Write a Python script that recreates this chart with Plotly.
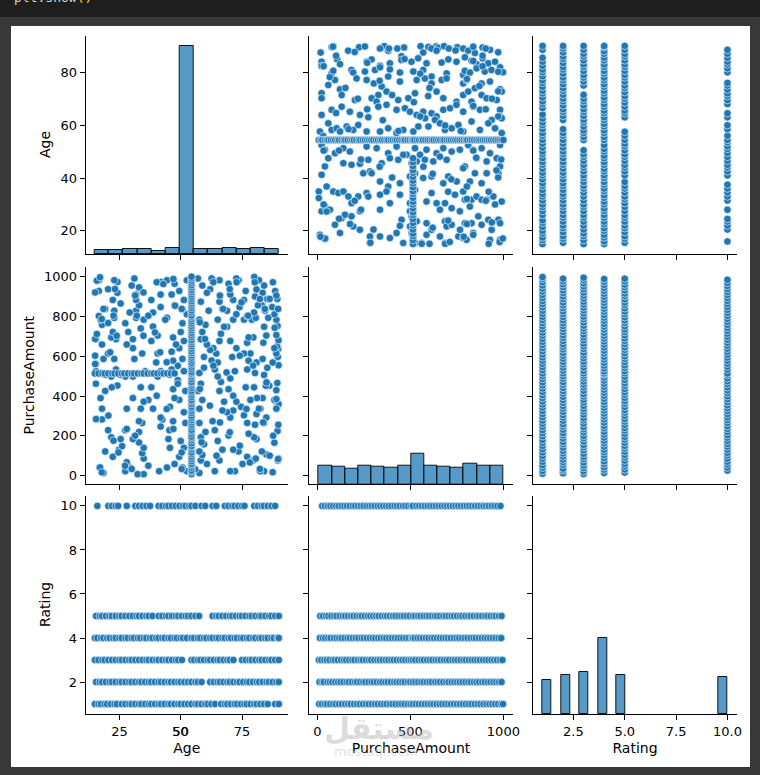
import plotly.graph_objects as go

W, H = 760, 775

# ---------------- data ----------------
variables = ["Age", "PurchaseAmount", "Rating"]

age_mean = 54.4          # imputed Age value (horizontal / vertical band)
amount_mean = 514        # imputed PurchaseAmount value

# records with both Age and PurchaseAmount observed: (PurchaseAmount, Age)
amount_age_pairs = [
    (77, 89.6), (86, 89.9), (225, 89.5), (256, 89.8), (345, 89.3), (360, 89.9), (466, 89.4), (555, 89.9),
    (597, 89.6), (638, 89.8), (650, 89.3), (681, 89.9), (752, 89.5), (838, 89.8), (888, 89.4),
    (18, 87.5), (166, 88.2), (337, 89), (381, 88.2), (430, 89), (452, 86.1), (569, 87.5), (614, 89),
    (641, 88.2), (707, 89), (743, 88.3), (784, 89), (811, 88.2), (847, 87.3), (928, 88.5), (972, 87.6),
    (23, 84), (23, 82.4), (107, 84.9), (122, 83.1), (265, 84), (292, 84.9), (337, 82.5), (390, 83.4),
    (452, 84.7), (506, 84), (542, 85.3), (587, 83.4), (668, 83.7), (704, 84.9), (748, 84), (793, 85.7),
    (829, 84.4), (856, 83.1), (888, 85.3), (919, 83.4), (955, 84), (982, 81.9),
    (77, 79.6), (86, 80.6), (184, 80.9), (193, 79.9), (256, 80.3), (310, 80.9), (337, 81.9), (390, 81.1),
    (444, 79.9), (516, 80.3), (569, 80.9), (614, 78.4), (695, 79.6), (784, 79), (793, 80.6), (820, 79.9),
    (856, 81.5), (900, 80.3), (936, 80.9), (998, 80),
    (59, 75.2), (95, 77.1), (122, 73.6), (211, 77.7), (265, 77.1), (304, 75.8), (346, 74.6), (381, 78.4),
    (444, 76.5), (534, 77.1), (578, 77.7), (614, 75.8), (668, 77.1), (695, 77.7), (784, 75.8), (802, 77.1),
    (847, 74), (883, 75.8), (928, 76.5), (982, 73.6),
    (23, 72.1), (23, 70.2), (131, 71.4), (202, 69.5), (292, 70.2), (328, 71.4), (372, 72.7), (435, 69.5),
    (489, 70.2), (525, 72.1), (596, 71), (641, 72.7), (677, 70.2), (748, 68.9), (784, 71.4), (811, 72.7),
    (829, 68.9), (883, 71.4), (910, 70.2), (964, 69.5), (991, 72.7),
    (23, 63.9), (77, 65.8), (131, 67), (175, 65.1), (229, 63.9), (274, 63), (319, 68.9), (328, 67),
    (372, 67.7), (426, 65.8), (471, 66.4), (498, 65.1), (534, 63.9), (569, 65.1), (614, 64.5), (641, 63.3),
    (677, 65.8), (713, 66.4), (748, 67.7), (784, 65.1), (838, 67), (874, 65.8), (937, 62), (982, 65.8),
    (982, 63.3),
    (14, 57.6), (32, 55.9), (59, 60.7), (77, 58.2), (104, 58.8), (122, 57.6), (158, 59.5), (193, 58.2),
    (220, 60.1), (265, 57.6), (337, 57.6), (381, 58.8), (426, 57), (462, 58.2), (516, 57.6), (543, 59.5),
    (579, 62.6), (597, 59.5), (632, 62), (659, 60.7), (686, 58.2), (722, 58.8), (758, 60.1), (784, 57.6),
    (829, 61.4), (874, 58.2), (919, 60.7), (955, 58.8), (991, 62.6), (991, 57),
    (23, 52.5), (41, 50.7), (95, 49.4), (140, 51.3), (175, 50), (265, 51.9), (319, 51.3), (381, 49.4),
    (426, 51.9), (480, 48.8), (525, 51.3), (552, 48.8), (587, 50.7), (641, 49.4), (677, 51.3), (722, 50),
    (766, 50.7), (811, 52.5), (838, 50.7), (883, 51.3), (928, 49.4), (982, 52.5),
    (41, 44.4), (59, 47.5), (140, 45.6), (184, 45), (229, 45.4), (274, 46.9), (283, 42.5), (346, 45.6),
    (390, 47.5), (435, 46.9), (462, 48.8), (507, 45.6), (534, 46.3), (578, 46.9), (623, 46.3), (659, 48.1),
    (695, 46.9), (793, 44.4), (856, 47.5), (910, 46.3), (964, 47.5), (982, 44.4),
    (23, 41.2), (247, 41.8), (292, 41.8), (337, 38.7), (381, 36.8), (444, 38), (498, 40.6), (525, 41.8),
    (569, 40), (614, 40.6), (677, 38), (704, 40.6), (749, 38.7), (784, 43.7), (847, 41.8), (910, 41.8),
    (973, 41.8), (883, 38), (820, 38.7),
    (8, 34.9), (8, 32.4), (50, 36.8), (86, 34.9), (113, 34.3), (140, 34.9), (167, 33), (184, 30.5),
    (220, 33), (265, 34.3), (274, 33), (337, 33.7), (372, 34.9), (444, 33.7), (498, 30.5), (525, 35.5),
    (587, 31.1), (614, 34.3), (641, 30.5), (686, 30.5), (740, 33.7), (784, 34.9), (793, 31.8), (829, 31.8),
    (856, 33), (883, 31.8), (910, 31.8), (946, 33), (991, 31.1),
    (23, 27.4), (41, 29.2), (68, 28), (131, 24.8), (149, 26.1), (184, 25.5), (229, 27.4), (337, 28),
    (390, 30.5), (453, 24.2), (498, 27.4), (507, 25.5), (534, 23.6), (587, 22.9), (659, 28), (686, 23.6),
    (722, 28.6), (766, 27.4), (793, 22.9), (829, 22.9), (865, 25.5), (919, 24.2), (973, 24.2), (982, 22.9),
    (820, 29.2),
    (14, 18.5), (41, 16.9), (95, 22.3), (122, 19.2), (193, 21.7), (229, 20.4), (283, 17.9), (283, 15.4),
    (337, 17.9), (390, 17.3), (426, 19.2), (462, 15.4), (498, 21.7), (507, 19.2), (516, 17.3), (525, 15.4),
    (561, 15.4), (587, 18.5), (614, 20.4), (659, 17.9), (686, 15.4), (695, 21.7), (722, 22.3), (758, 17.9),
    (784, 17.3), (802, 16.6), (838, 19.2), (883, 22.3), (928, 16.6), (937, 20.4), (982, 16.6), (767, 20.4),
    # further points read from the Age / PurchaseAmount panel
    (980, 15.8), (997, 17.1), (921, 15.1), (687, 15.1), (712, 15.8), (603, 15.1), (561, 15.1), (285, 15.5),
    (42, 17.1), (17, 17.8), (838, 18.5), (787, 17.8), (938, 23.2), (804, 22.6), (703, 23.9), (620, 21.2),
    (444, 21.9), (302, 20.5), (176, 22.6), (117, 24.6), (235, 28), (50, 27.3), (34, 30), (201, 31.4),
    (955, 30), (905, 31.4), (804, 32.1), (921, 34.8), (804, 36.8), (703, 34.8), (720, 39.5), (972, 40.2),
    (963, 42.9), (988, 47), (854, 47.7), (838, 50.4), (620, 41.6), (570, 44.3), (402, 40.2), (335, 44.3),
    (235, 47), (117, 50.4), (34, 50.4), (771, 57.8), (687, 59.9), (972, 63.3), (905, 66), (838, 67.3),
    (938, 70), (972, 72.8), (871, 74.8), (804, 77.5), (972, 80.2), (888, 82.3), (838, 84.3), (888, 86.3),
    (905, 89), (838, 89.7), (436, 57.8), (352, 61.9), (268, 66), (218, 70), (151, 74.1), (67, 78.2),
    (34, 82.3), (101, 86.3), (84, 89.7), (553, 63.3), (519, 68.7), (603, 74.1), (553, 79.5), (469, 85),
    (385, 89), (168, 58.5), (101, 64.6), (402, 71.4), (335, 76.8), (268, 83.6), (201, 87.7),
]

# PurchaseAmount of records whose Age was imputed (Age = age_mean)
imputed_age_amounts = [
    8, 19, 27, 41, 52, 60, 73, 85, 96, 108, 117, 131, 142, 150, 163, 177, 188, 196, 210, 222, 231, 245,
    256, 268, 279, 290, 301, 315, 326, 338, 347, 360, 372, 381, 395, 406, 418, 427, 440, 452, 463, 471,
    485, 497, 508, 514, 522, 536, 547, 559, 568, 581, 593, 604, 616, 625, 638, 650, 661, 673, 682, 696,
    707, 718, 730, 741, 752, 764, 775, 787, 798, 806, 820, 831, 843, 855, 866, 877, 889, 900, 912, 923,
    934, 946, 957, 969, 980, 991, 1000,
]

# Age of records whose PurchaseAmount was imputed (PurchaseAmount = amount_mean)
imputed_amount_ages = [
    15, 16.5, 18, 19, 20.5, 22, 23, 24.5, 26, 27, 28.5, 30, 31, 32.5, 34, 35, 36.5, 38, 39, 40.5, 42,
    43, 44.5, 46, 47.5,
]

# Ages observed at each rating value
rating_levels = [1, 2, 3, 4, 5, 10]
ages_by_rating = {
    1: [15, 16.5, 17.5, 19, 20, 21.5, 23, 24, 26, 27.5, 29, 30, 31.5, 33, 34, 35.5, 37, 38, 39.5, 41, 42,
        43.5, 45, 46, 47.5, 49, 50, 51.5, 53, 54.4, 56, 57, 58.5, 60, 61, 62.5, 64, 66.5, 68, 69, 70.5,
        72, 73, 74.5, 76, 77, 78.5, 80, 81, 82.5, 84, 85.5, 88.5, 90],
    2: [15.5, 17, 18, 19.5, 21, 22, 23.5, 25, 26, 27.5, 29, 30, 31.5, 33, 34, 35.5, 37, 38, 39.5, 41, 42,
        43.5, 45, 46, 47.5, 49, 50, 51.5, 53, 54.4, 56, 57, 58.5, 62, 63.5, 65, 66, 67.5, 69, 70, 71.5,
        73, 74, 75.5, 77, 78, 79.5, 81, 82, 83.5, 85, 86, 87.5, 89, 90],
    3: [15, 16.5, 18, 19, 20.5, 22, 23.5, 25, 26, 27.5, 29, 30, 31.5, 33, 34.5, 36, 37, 38.5, 40, 41,
        42.5, 44, 45, 46.5, 48, 49, 50.5, 54.4, 55.5, 57, 58, 59.5, 61, 62, 63.5, 65, 66, 67.5, 69, 70,
        71.5, 75, 76.5, 78, 79, 80.5, 82, 83, 84.5, 86, 87, 88.5, 90],
    4: [15, 16, 17.5, 18.5, 20, 21, 22.5, 23.5, 25, 26, 27.5, 28.5, 30, 31, 32.5, 33.5, 35, 36, 37.5,
        38.5, 40, 41, 42.5, 43.5, 45, 46, 47.5, 48.5, 50, 51, 52.5, 54.4, 55.5, 57, 58, 59.5, 60.5, 62,
        63, 64.5, 65.5, 67, 68, 69.5, 70.5, 72, 73, 74.5, 75.5, 77, 78, 79.5, 80.5, 82, 83, 84.5, 85.5,
        87, 88, 89.5, 90],
    5: [15.5, 17, 18, 19.5, 21, 22, 23.5, 25, 26, 27.5, 29, 30.5, 32, 33, 34.5, 36, 37, 38.5, 41, 42.5,
        44, 45, 46.5, 48, 49, 50.5, 52, 53, 54.4, 56, 57.5, 63, 64.5, 65.5, 67, 68.5, 70, 71, 72.5, 74,
        75, 76.5, 78, 79, 80.5, 82, 83, 84.5, 86, 87, 88.5, 90],
    10: [16, 20.5, 22, 23.5, 24.5, 28, 31.5, 33, 34.5, 36, 37.5, 41, 42.5, 44, 45, 46.5, 48, 49.5, 51,
         52, 53.5, 54.4, 56, 58.5, 60, 63, 64.5, 68, 69.5, 71, 72, 73.5, 75, 76, 80, 81.5, 83, 84, 85.5,
         87, 88.5],
}

# Purchase amounts observed at each rating value
amounts_by_rating = {
    1: [10, 24, 40, 53, 70, 86, 100, 117, 133, 150, 166, 180, 198, 214, 229, 246, 262, 277, 294, 310,
        325, 342, 358, 373, 390, 405, 421, 438, 454, 469, 486, 501, 514, 530, 546, 562, 578, 594, 609,
        625, 641, 657, 672, 688, 704, 719, 735, 751, 767, 782, 798, 814, 829, 846, 862, 877, 893, 909,
        925, 940, 956, 972, 988, 998],
    2: [12, 27, 36, 55, 68, 81, 97, 112, 125, 141, 158, 170, 187, 203, 214, 231, 247, 259, 276, 292, 305,
        321, 337, 350, 366, 380, 396, 413, 426, 441, 457, 470, 487, 500, 514, 528, 543, 559, 572, 588,
        603, 617, 634, 648, 661, 677, 693, 706, 722, 737, 752, 766, 781, 797, 812, 826, 842, 856, 870,
        887, 901, 917, 931, 947, 962, 977, 990],
    3: [9, 22, 38, 51, 66, 83, 95, 110, 128, 143, 155, 172, 188, 200, 218, 233, 245, 262, 278, 290, 307,
        323, 336, 351, 368, 382, 398, 411, 427, 444, 458, 473, 489, 502, 514, 527, 544, 560, 573, 590,
        605, 619, 636, 650, 664, 680, 695, 709, 726, 740, 754, 770, 786, 799, 815, 830, 845, 860, 874,
        890, 905, 920, 936, 951, 966, 982, 995],
    4: [14, 30, 43, 59, 72, 89, 104, 118, 131, 147, 163, 176, 192, 207, 221, 238, 251, 267, 283, 298,
        312, 328, 342, 357, 371, 387, 402, 417, 432, 447, 462, 478, 493, 508, 514, 524, 539, 553, 568,
        584, 598, 614, 628, 644, 659, 674, 689, 703, 718, 734, 749, 763, 779, 794, 808, 824, 839, 853,
        869, 884, 899, 914, 929, 944, 959, 974, 988],
    5: [16, 31, 47, 60, 76, 92, 105, 121, 137, 150, 166, 182, 195, 211, 227, 240, 256, 272, 285, 301,
        317, 330, 346, 362, 375, 391, 407, 420, 436, 452, 465, 481, 497, 514, 526, 542, 555, 571, 587,
        600, 616, 632, 645, 661, 677, 690, 706, 722, 735, 751, 767, 780, 796, 812, 825, 841, 857, 870,
        886, 902, 915, 931, 947, 960, 976, 990],
    10: [26, 41, 57, 70, 86, 102, 115, 131, 146, 160, 175, 191, 204, 220, 235, 249, 265, 280, 294, 309,
         325, 339, 354, 370, 384, 399, 415, 429, 444, 460, 474, 489, 505, 514, 533, 548, 563, 578, 593,
         608, 623, 638, 653, 668, 683, 698, 713, 728, 743, 758, 773, 788, 803, 818, 833, 848, 863, 878,
         893, 908, 923, 938, 953, 968, 984],
}

# Histograms on the diagonal (bin edges and counts)
age_bin_edges = [15, 20.77, 26.54, 32.31, 38.08, 43.85, 49.62, 55.38, 61.15, 66.92, 72.69, 78.46, 84.23, 90]
age_counts = [14, 14, 18, 18, 10, 21, 782, 18, 18, 21, 18, 21, 18]

amount_bin_edges = [7, 78, 149, 220, 291, 362, 433, 504, 574, 645, 716, 787, 858, 929, 1000]
amount_counts = [70, 67, 59, 70, 67, 63, 70, 115, 70, 67, 63, 78, 70, 70]

rating_bin_left = [1.0, 1.9, 2.8, 3.7, 4.6, 9.55]
rating_bin_width = 0.45
rating_counts = [127, 147, 157, 286, 147, 138]

# axis tick values
x_ticks = {"Age": [25, 50, 75], "PurchaseAmount": [0, 500, 1000], "Rating": [2.5, 5.0, 7.5, 10.0]}
y_ticks = {"Age": [20, 40, 60, 80], "PurchaseAmount": [0, 200, 400, 600, 800, 1000], "Rating": [2, 4, 6, 8, 10]}

# ---------------- build figure ----------------
axis_range = {"Age": [11.25, 93.75], "PurchaseAmount": [-43, 1050], "Rating": [0.55, 10.45]}
col_px = [(85.7, 288.0), (309.3, 512.7), (533.3, 736.7)]
row_px = [(36.0, 254.0), (266.7, 484.3), (496.0, 714.0)]

def fx(px):
    return px / W

def fy(py):
    return 1 - py / H

BLUE = "#1f77b4"
FONT = "DejaVu Sans"
TICK_FONT = dict(family=FONT, size=13, color="#000000")
title_font = dict(family=FONT, size=14, color="#000000")

fig = go.Figure()

am_x = [p[0] for p in amount_age_pairs] + imputed_age_amounts + [amount_mean] * len(imputed_amount_ages)
am_y = [p[1] for p in amount_age_pairs] + [age_mean] * len(imputed_age_amounts) + imputed_amount_ages

ra_x, ra_y = [], []
for r in rating_levels:
    ra_x += [r] * len(ages_by_rating[r])
    ra_y += ages_by_rating[r]

rm_x, rm_y = [], []
for r in rating_levels:
    rm_x += [r] * len(amounts_by_rating[r])
    rm_y += amounts_by_rating[r]

pair_data = {
    ("PurchaseAmount", "Age"): (am_x, am_y),
    ("Age", "PurchaseAmount"): (am_y, am_x),
    ("Rating", "Age"): (ra_x, ra_y),
    ("Age", "Rating"): (ra_y, ra_x),
    ("Rating", "PurchaseAmount"): (rm_x, rm_y),
    ("PurchaseAmount", "Rating"): (rm_y, rm_x),
}

marker = dict(color=BLUE, size=7.5, line=dict(color="white", width=0.6))

hist_fill = "rgba(31,119,180,0.75)"
hist_line = dict(color="rgba(0,0,0,0.9)", width=1)
hist_max = max(age_counts) * 1.05

layout_axes = {}
annotations = []
for r, yvar in enumerate(variables):
    for c, xvar in enumerate(variables):
        k = r * 3 + c + 1
        xa = "x" if k == 1 else f"x{k}"
        ya = "y" if k == 1 else f"y{k}"
        xname = "xaxis" if k == 1 else f"xaxis{k}"
        yname = "yaxis" if k == 1 else f"yaxis{k}"
        xd = [fx(col_px[c][0]), fx(col_px[c][1])]
        yd = [fy(row_px[r][1]), fy(row_px[r][0])]
        common = dict(showline=True, linecolor="#000000", linewidth=1.1, ticks="outside", ticklen=5,
                      tickwidth=1.1, tickcolor="#000000", showgrid=False, zeroline=False,
                      tickfont=TICK_FONT, fixedrange=True, ticklabeloverflow="allow", tickangle=0,
                      automargin=False)
        xtext = [f"{v:.1f}" if xvar == "Rating" else f"{v:g}" for v in x_ticks[xvar]]
        layout_axes[xname] = dict(domain=xd, anchor=ya, range=axis_range[xvar], tickmode="array",
                                  tickvals=x_ticks[xvar], ticktext=xtext,
                                  showticklabels=(r == 2), **common)
        if r == 2:
            layout_axes[xname]["title"] = dict(text=xvar, font=title_font, standoff=5)
        ytext = [f"{v:g}" for v in y_ticks[yvar]]
        if r == c:
            # diagonal: the y axis holds the histogram counts; the row's tick marks are placed on it
            lo, hi = axis_range[yvar]
            yvals = [(v - lo) / (hi - lo) * hist_max for v in y_ticks[yvar]]
            layout_axes[yname] = dict(domain=yd, anchor=xa, range=[0, hist_max], tickmode="array",
                                      tickvals=yvals, ticktext=ytext, showticklabels=(c == 0), **common)
            if xvar == "Age":
                edges, counts = age_bin_edges, age_counts
                centers = [(edges[i] + edges[i + 1]) / 2 for i in range(len(counts))]
                widths = [edges[i + 1] - edges[i] for i in range(len(counts))]
            elif xvar == "PurchaseAmount":
                edges, counts = amount_bin_edges, amount_counts
                centers = [(edges[i] + edges[i + 1]) / 2 for i in range(len(counts))]
                widths = [edges[i + 1] - edges[i] for i in range(len(counts))]
            else:
                counts = rating_counts
                centers = [left + rating_bin_width / 2 for left in rating_bin_left]
                widths = [rating_bin_width] * len(counts)
            fig.add_trace(go.Bar(x=centers, y=counts, width=widths, xaxis=xa, yaxis=ya,
                                 marker=dict(color=hist_fill, line=hist_line), showlegend=False,
                                 hoverinfo="skip"))
        else:
            layout_axes[yname] = dict(domain=yd, anchor=xa, range=axis_range[yvar], tickmode="array",
                                      tickvals=y_ticks[yvar], ticktext=ytext,
                                      showticklabels=(c == 0), **common)
            xs, ys = pair_data[(xvar, yvar)]
            fig.add_trace(go.Scatter(x=xs, y=ys, mode="markers", xaxis=xa, yaxis=ya, marker=marker,
                                     showlegend=False, hoverinfo="skip"))

# the middle Age tick label of the bottom row is not rendered by the axis itself; place it on the x7 scale
annotations.append(dict(text="50", x=50, xref="x7", y=fy(731), yref="paper", xanchor="center",
                        yanchor="middle", showarrow=False, font=TICK_FONT))

# watermark
annotations.append(dict(text="<b>مستقل</b>", x=fx(379), y=fy(728), xref="paper", yref="paper",
                        xanchor="center", yanchor="middle", showarrow=False,
                        font=dict(family=FONT, size=30, color="rgba(185,185,185,0.5)")))
annotations.append(dict(text="mostaql.com", x=fx(376), y=fy(751), xref="paper", yref="paper",
                        xanchor="center", yanchor="middle", showarrow=False,
                        font=dict(family=FONT, size=13, color="rgba(200,200,200,0.55)")))

# y axis titles
y_title_x = [45, 28, 45]
for i, name in enumerate(variables):
    annotations.append(dict(text=name, x=fx(y_title_x[i]), y=fy((row_px[i][0] + row_px[i][1]) / 2),
                            xref="paper", yref="paper", xanchor="center", yanchor="middle",
                            showarrow=False, textangle=-90, font=title_font))

# partially visible code line at the very top of the screenshot
annotations.append(dict(text="plt.show<span style='color:#ffd700'>()</span>", x=fx(12), y=fy(-2),
                        xref="paper", yref="paper", xanchor="left", yanchor="middle", showarrow=False,
                        font=dict(family="DejaVu Sans Mono", size=13, color="#d4d4d4")))

shapes = [
    dict(type="rect", xref="paper", yref="paper", x0=0, x1=1, y0=fy(17), y1=1,
         fillcolor="#1e1e1e", line=dict(width=0), layer="below"),
    dict(type="rect", xref="paper", yref="paper", x0=fx(11), x1=fx(750), y0=fy(767), y1=fy(26),
         fillcolor="#ffffff", line=dict(width=0), layer="below"),
]

fig.update_layout(
    width=W, height=H, margin=dict(l=0, r=0, t=0, b=0), autosize=False,
    paper_bgcolor="#383838", plot_bgcolor="rgba(0,0,0,0)",
    showlegend=False, bargap=0, annotations=annotations, shapes=shapes,
    font=dict(family=FONT), **layout_axes,
)

fig.write_html("out.html")
